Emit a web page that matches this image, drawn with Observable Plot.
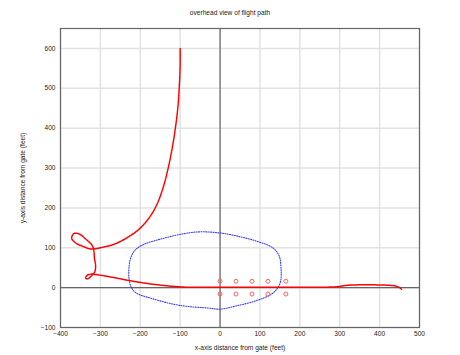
<!DOCTYPE html>
<html>
<head>
<meta charset="utf-8">
<script src="https://cdn.jsdelivr.net/npm/d3@7"></script>
<script src="https://cdn.jsdelivr.net/npm/@observablehq/plot@0.6"></script>
<style>
  html, body { margin: 0; padding: 0; background: #fff; }
  #title { width: 460px; height: 20px; line-height: 26px; text-align: center;
           font-family: "Liberation Sans", Arial, sans-serif; font-size: 6.6px; color: #222; }
</style>
</head>
<body>
<div id="title">overhead view of flight path</div>
<div id="chart"></div>
<script>
// tick values
const xTicks = [-400, -300, -200, -100, 0, 100, 200, 300, 400, 500];
const yTicks = [-100, 0, 100, 200, 300, 400, 500, 600];

// flight path (feet)
const pathX = [-100, -100, -101, -103, -106, -112, -120, -130, -143, -160, -180, -205, -235, -265, -295, -324, -345, -362, -372, -366, -352, -337, -320, -316, -315, -312, -314, -322, -332, -337, -333, -322, -305, -270, -224, -165, -115, -80, 0, 100, 200, 290, 320, 380, 420, 440, 450, 455];
const pathY = [600, 560, 530, 490, 450, 400, 350, 300, 250, 205, 172, 145, 124, 109, 101, 97, 104, 112, 124, 136, 134, 122, 105, 90, 75, 55, 40, 30, 22, 24, 31, 34, 32, 26, 17, 8, 3, 1, 1, 1, 1, 2, 6, 7, 6, 4, 0, -4];

// blue boundary (closed)
const fenceX = [-50, 0, 40, 90, 132, 148, 153, 152, 145, 128, 90, 40, 0, -31, -73, -115, -165, -211, -222, -228, -228, -222, -211, -190, -148, -98];
const fenceY = [140, 137, 130, 117, 100, 80, 46, 17, 0, -17, -33, -46, -54, -51, -48, -42, -29, -13, 0, 21, 54, 80, 96, 109, 122, 134];

// red circle markers
const markerX = [0, 40, 80, 120, 165, 0, 40, 80, 120, 165];
const markerY = [16, 16, 16, 16, 16, -16, -16, -16, -16, -16];

const path = pathX.map((x, i) => ({x, y: pathY[i]}));
const fence = fenceX.map((x, i) => ({x, y: fenceY[i]}));
const markers = markerX.map((x, i) => ({x, y: markerY[i]}));

const chart = Plot.plot({
  width: 460,
  height: 335,
  marginLeft: 60,
  marginRight: 41,
  marginTop: 8,
  marginBottom: 28,
  style: { fontFamily: "Liberation Sans, Arial, sans-serif", fontSize: "6.6px", color: "#222", background: "#fff" },
  x: { domain: [-400, 500] },
  y: { domain: [-100, 650] },
  marks: [
    Plot.gridX(xTicks, { stroke: "#e2e2e2", strokeOpacity: 1, strokeWidth: 1.5 }),
    Plot.gridY(yTicks, { stroke: "#e2e2e2", strokeOpacity: 1, strokeWidth: 1.5 }),
    Plot.ruleX([0], { stroke: "#666", strokeWidth: 1.2 }),
    Plot.ruleY([0], { stroke: "#666", strokeWidth: 1.2 }),
    Plot.frame({ stroke: "#666", strokeWidth: 1.2 }),
    Plot.line(fence, { x: "x", y: "y", curve: "catmull-rom-closed", stroke: "#3a3af5", strokeWidth: 1.1, strokeDasharray: "1,1.4" }),
    Plot.line(path, { x: "x", y: "y", curve: "catmull-rom", stroke: "#ff0000", strokeWidth: 1.5, strokeDasharray: "1.5,0.8" }),
    Plot.dot(markers, { x: "x", y: "y", r: 2, stroke: "#f06464", strokeWidth: 1, fill: "none" }),
    Plot.axisX(xTicks, { tickSize: 0, tickPadding: 4, label: "x-axis distance from gate (feet)", labelAnchor: "center", labelArrow: "none", labelOffset: 22 }),
    Plot.axisY(yTicks, { tickSize: 0, tickPadding: 5, label: "y-axis distance from gate (feet)", labelAnchor: "center", labelArrow: "none", labelOffset: 40 })
  ]
});
document.getElementById("chart").appendChild(chart);
</script>
</body>
</html>
